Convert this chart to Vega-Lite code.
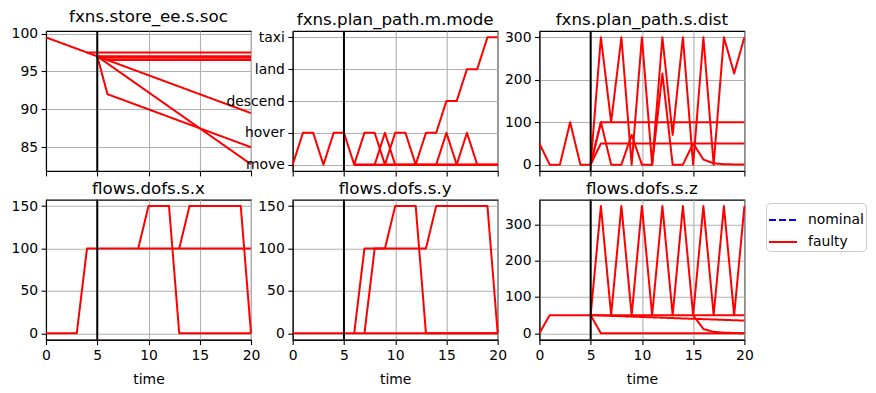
{
"$schema": "https://vega.github.io/schema/vega-lite/v6.json",
"padding": {"left": 10, "top": 8, "right": 5, "bottom": 5},
"background": "white",
"datasets": {
"soc": [
{"s":"a","t":0,"v":99.5},{"s":"a","t":1,"v":99},{"s":"a","t":2,"v":98.5},{"s":"a","t":3,"v":98},{"s":"a","t":4,"v":97.5},{"s":"a","t":5,"v":97},{"s":"a","t":6,"v":96.5},{"s":"a","t":7,"v":96},{"s":"a","t":8,"v":95.5},{"s":"a","t":9,"v":95},{"s":"a","t":10,"v":94.5},{"s":"a","t":11,"v":94},{"s":"a","t":12,"v":93.5},{"s":"a","t":13,"v":93},{"s":"a","t":14,"v":92.5},{"s":"a","t":15,"v":92},{"s":"a","t":16,"v":91.5},{"s":"a","t":17,"v":91},{"s":"a","t":18,"v":90.5},{"s":"a","t":19,"v":90},{"s":"a","t":20,"v":89.5},
{"s":"b","t":4,"v":97.5},{"s":"b","t":5,"v":97.5},{"s":"b","t":6,"v":97.5},{"s":"b","t":7,"v":97.5},{"s":"b","t":8,"v":97.5},{"s":"b","t":9,"v":97.5},{"s":"b","t":10,"v":97.5},{"s":"b","t":11,"v":97.5},{"s":"b","t":12,"v":97.5},{"s":"b","t":13,"v":97.5},{"s":"b","t":14,"v":97.5},{"s":"b","t":15,"v":97.5},{"s":"b","t":16,"v":97.5},{"s":"b","t":17,"v":97.5},{"s":"b","t":18,"v":97.5},{"s":"b","t":19,"v":97.5},{"s":"b","t":20,"v":97.5},
{"s":"c","t":5,"v":97},{"s":"c","t":6,"v":97},{"s":"c","t":7,"v":97},{"s":"c","t":8,"v":97},{"s":"c","t":9,"v":97},{"s":"c","t":10,"v":97},{"s":"c","t":11,"v":97},{"s":"c","t":12,"v":97},{"s":"c","t":13,"v":97},{"s":"c","t":14,"v":97},{"s":"c","t":15,"v":97},{"s":"c","t":16,"v":97},{"s":"c","t":17,"v":97},{"s":"c","t":18,"v":97},{"s":"c","t":19,"v":97},{"s":"c","t":20,"v":97},
{"s":"d","t":5,"v":97},{"s":"d","t":6,"v":96.8},{"s":"d","t":7,"v":96.8},{"s":"d","t":8,"v":96.8},{"s":"d","t":9,"v":96.8},{"s":"d","t":10,"v":96.8},{"s":"d","t":11,"v":96.8},{"s":"d","t":12,"v":96.8},{"s":"d","t":13,"v":96.8},{"s":"d","t":14,"v":96.8},{"s":"d","t":15,"v":96.8},{"s":"d","t":16,"v":96.8},{"s":"d","t":17,"v":96.8},{"s":"d","t":18,"v":96.8},{"s":"d","t":19,"v":96.8},{"s":"d","t":20,"v":96.8},
{"s":"e","t":5,"v":97},{"s":"e","t":6,"v":96.5},{"s":"e","t":7,"v":96.5},{"s":"e","t":8,"v":96.5},{"s":"e","t":9,"v":96.5},{"s":"e","t":10,"v":96.5},{"s":"e","t":11,"v":96.5},{"s":"e","t":12,"v":96.5},{"s":"e","t":13,"v":96.5},{"s":"e","t":14,"v":96.5},{"s":"e","t":15,"v":96.5},{"s":"e","t":16,"v":96.5},{"s":"e","t":17,"v":96.5},{"s":"e","t":18,"v":96.5},{"s":"e","t":19,"v":96.5},{"s":"e","t":20,"v":96.5},
{"s":"f","t":5,"v":97},{"s":"f","t":6,"v":92},{"s":"f","t":7,"v":91.5},{"s":"f","t":8,"v":91},{"s":"f","t":9,"v":90.5},{"s":"f","t":10,"v":90},{"s":"f","t":11,"v":89.5},{"s":"f","t":12,"v":89},{"s":"f","t":13,"v":88.5},{"s":"f","t":14,"v":88},{"s":"f","t":15,"v":87.5},{"s":"f","t":16,"v":87},{"s":"f","t":17,"v":86.5},{"s":"f","t":18,"v":86},{"s":"f","t":19,"v":85.5},{"s":"f","t":20,"v":85},
{"s":"g","t":5,"v":97},{"s":"g","t":6,"v":96.05},{"s":"g","t":7,"v":95.1},{"s":"g","t":8,"v":94.15},{"s":"g","t":9,"v":93.2},{"s":"g","t":10,"v":92.25},{"s":"g","t":11,"v":91.3},{"s":"g","t":12,"v":90.35},{"s":"g","t":13,"v":89.4},{"s":"g","t":14,"v":88.45},{"s":"g","t":15,"v":87.5},{"s":"g","t":16,"v":86.55},{"s":"g","t":17,"v":85.6},{"s":"g","t":18,"v":84.65},{"s":"g","t":19,"v":83.7},{"s":"g","t":20,"v":82.75}
],
"mode": [
{"s":"a","t":0,"v":0},{"s":"a","t":1,"v":1},{"s":"a","t":2,"v":1},{"s":"a","t":3,"v":0},{"s":"a","t":4,"v":1},{"s":"a","t":5,"v":1},{"s":"a","t":6,"v":0},{"s":"a","t":7,"v":1},{"s":"a","t":8,"v":1},{"s":"a","t":9,"v":0},{"s":"a","t":10,"v":1},{"s":"a","t":11,"v":1},{"s":"a","t":12,"v":0},{"s":"a","t":13,"v":1},{"s":"a","t":14,"v":1},{"s":"a","t":15,"v":2},{"s":"a","t":16,"v":2},{"s":"a","t":17,"v":3},{"s":"a","t":18,"v":3},{"s":"a","t":19,"v":4},{"s":"a","t":20,"v":4},
{"s":"b","t":9,"v":0},{"s":"b","t":10,"v":0},{"s":"b","t":11,"v":0},{"s":"b","t":12,"v":0},{"s":"b","t":13,"v":0},{"s":"b","t":14,"v":0},{"s":"b","t":15,"v":0},{"s":"b","t":16,"v":0},{"s":"b","t":17,"v":0},{"s":"b","t":18,"v":0},{"s":"b","t":19,"v":0},{"s":"b","t":20,"v":0},
{"s":"c","t":6,"v":0},{"s":"c","t":7,"v":0},{"s":"c","t":8,"v":0},{"s":"c","t":9,"v":1},{"s":"c","t":10,"v":0},{"s":"c","t":11,"v":0},{"s":"c","t":12,"v":0},{"s":"c","t":13,"v":0},{"s":"c","t":14,"v":0},{"s":"c","t":15,"v":0},{"s":"c","t":16,"v":0},{"s":"c","t":17,"v":0},{"s":"c","t":18,"v":0},{"s":"c","t":19,"v":0},{"s":"c","t":20,"v":0},
{"s":"d","t":6,"v":0},{"s":"d","t":7,"v":0},{"s":"d","t":8,"v":0},{"s":"d","t":9,"v":0},{"s":"d","t":10,"v":0},{"s":"d","t":11,"v":0},{"s":"d","t":12,"v":0},{"s":"d","t":13,"v":0},{"s":"d","t":14,"v":0},{"s":"d","t":15,"v":1},{"s":"d","t":16,"v":0},{"s":"d","t":17,"v":0},{"s":"d","t":18,"v":0},{"s":"d","t":19,"v":0},{"s":"d","t":20,"v":0},
{"s":"e","t":6,"v":0},{"s":"e","t":7,"v":0},{"s":"e","t":8,"v":0},{"s":"e","t":9,"v":0},{"s":"e","t":10,"v":0},{"s":"e","t":11,"v":0},{"s":"e","t":12,"v":0},{"s":"e","t":13,"v":0},{"s":"e","t":14,"v":0},{"s":"e","t":15,"v":0},{"s":"e","t":16,"v":0},{"s":"e","t":17,"v":1},{"s":"e","t":18,"v":0},{"s":"e","t":19,"v":0},{"s":"e","t":20,"v":0}
],
"dist": [
{"s":"a","t":0,"v":50},{"s":"a","t":1,"v":0},{"s":"a","t":2,"v":0},{"s":"a","t":3,"v":100},{"s":"a","t":4,"v":0},{"s":"a","t":5,"v":0},{"s":"a","t":6,"v":300},{"s":"a","t":7,"v":100},{"s":"a","t":8,"v":300},{"s":"a","t":9,"v":0},{"s":"a","t":10,"v":300},{"s":"a","t":11,"v":0},{"s":"a","t":12,"v":300},{"s":"a","t":13,"v":70},{"s":"a","t":14,"v":300},{"s":"a","t":15,"v":0},{"s":"a","t":16,"v":300},{"s":"a","t":17,"v":0},{"s":"a","t":18,"v":300},{"s":"a","t":19,"v":215},{"s":"a","t":20,"v":300},
{"s":"b","t":5,"v":0},{"s":"b","t":6,"v":100},{"s":"b","t":7,"v":0},{"s":"b","t":8,"v":0},{"s":"b","t":9,"v":70},{"s":"b","t":10,"v":0},{"s":"b","t":11,"v":0},{"s":"b","t":12,"v":215},{"s":"b","t":13,"v":0},{"s":"b","t":14,"v":0},{"s":"b","t":15,"v":50},{"s":"b","t":16,"v":12},{"s":"b","t":17,"v":3},{"s":"b","t":18,"v":1},{"s":"b","t":19,"v":0.5},{"s":"b","t":20,"v":0},
{"s":"c","t":5,"v":0},{"s":"c","t":6,"v":100},{"s":"c","t":7,"v":100},{"s":"c","t":8,"v":100},{"s":"c","t":9,"v":100},{"s":"c","t":10,"v":100},{"s":"c","t":11,"v":100},{"s":"c","t":12,"v":100},{"s":"c","t":13,"v":100},{"s":"c","t":14,"v":100},{"s":"c","t":15,"v":100},{"s":"c","t":16,"v":100},{"s":"c","t":17,"v":100},{"s":"c","t":18,"v":100},{"s":"c","t":19,"v":100},{"s":"c","t":20,"v":100},
{"s":"d","t":5,"v":0},{"s":"d","t":6,"v":50},{"s":"d","t":7,"v":50},{"s":"d","t":8,"v":50},{"s":"d","t":9,"v":50},{"s":"d","t":10,"v":50},{"s":"d","t":11,"v":50},{"s":"d","t":12,"v":50},{"s":"d","t":13,"v":50},{"s":"d","t":14,"v":50},{"s":"d","t":15,"v":50},{"s":"d","t":16,"v":50},{"s":"d","t":17,"v":50},{"s":"d","t":18,"v":50},{"s":"d","t":19,"v":50},{"s":"d","t":20,"v":50}
],
"dx": [
{"s":"a","t":0,"v":0},{"s":"a","t":1,"v":0},{"s":"a","t":2,"v":0},{"s":"a","t":3,"v":0},{"s":"a","t":4,"v":100},{"s":"a","t":5,"v":100},{"s":"a","t":6,"v":100},{"s":"a","t":7,"v":100},{"s":"a","t":8,"v":100},{"s":"a","t":9,"v":100},{"s":"a","t":10,"v":100},{"s":"a","t":11,"v":100},{"s":"a","t":12,"v":100},{"s":"a","t":13,"v":100},{"s":"a","t":14,"v":100},{"s":"a","t":15,"v":100},{"s":"a","t":16,"v":100},{"s":"a","t":17,"v":100},{"s":"a","t":18,"v":100},{"s":"a","t":19,"v":100},{"s":"a","t":20,"v":100},
{"s":"b","t":9,"v":100},{"s":"b","t":10,"v":150},{"s":"b","t":11,"v":150},{"s":"b","t":12,"v":150},{"s":"b","t":13,"v":0},{"s":"b","t":14,"v":0},{"s":"b","t":15,"v":0},{"s":"b","t":16,"v":0},{"s":"b","t":17,"v":0},{"s":"b","t":18,"v":0},{"s":"b","t":19,"v":0},{"s":"b","t":20,"v":0},
{"s":"c","t":13,"v":100},{"s":"c","t":14,"v":150},{"s":"c","t":15,"v":150},{"s":"c","t":16,"v":150},{"s":"c","t":17,"v":150},{"s":"c","t":18,"v":150},{"s":"c","t":19,"v":150},{"s":"c","t":20,"v":0}
],
"dy": [
{"s":"a","t":0,"v":0},{"s":"a","t":1,"v":0},{"s":"a","t":2,"v":0},{"s":"a","t":3,"v":0},{"s":"a","t":4,"v":0},{"s":"a","t":5,"v":0},{"s":"a","t":6,"v":0},{"s":"a","t":7,"v":0},{"s":"a","t":8,"v":0},{"s":"a","t":9,"v":0},{"s":"a","t":10,"v":0},{"s":"a","t":11,"v":0},{"s":"a","t":12,"v":0},{"s":"a","t":13,"v":0},{"s":"a","t":14,"v":0},{"s":"a","t":15,"v":0},{"s":"a","t":16,"v":0},{"s":"a","t":17,"v":0},{"s":"a","t":18,"v":0},{"s":"a","t":19,"v":0},{"s":"a","t":20,"v":0},
{"s":"b","t":6,"v":0},{"s":"b","t":7,"v":100},{"s":"b","t":8,"v":100},{"s":"b","t":9,"v":100},{"s":"b","t":10,"v":150},{"s":"b","t":11,"v":150},{"s":"b","t":12,"v":150},{"s":"b","t":13,"v":0},{"s":"b","t":14,"v":0},{"s":"b","t":15,"v":0},{"s":"b","t":16,"v":0},{"s":"b","t":17,"v":0},{"s":"b","t":18,"v":0},{"s":"b","t":19,"v":0},{"s":"b","t":20,"v":0},
{"s":"c","t":7,"v":0},{"s":"c","t":8,"v":100},{"s":"c","t":9,"v":100},{"s":"c","t":10,"v":100},{"s":"c","t":11,"v":100},{"s":"c","t":12,"v":100},{"s":"c","t":13,"v":100},{"s":"c","t":14,"v":150},{"s":"c","t":15,"v":150},{"s":"c","t":16,"v":150},{"s":"c","t":17,"v":150},{"s":"c","t":18,"v":150},{"s":"c","t":19,"v":150},{"s":"c","t":20,"v":0}
],
"dz": [
{"s":"a","t":0,"v":0},{"s":"a","t":1,"v":50},{"s":"a","t":2,"v":50},{"s":"a","t":3,"v":50},{"s":"a","t":4,"v":50},{"s":"a","t":5,"v":50},{"s":"a","t":6,"v":350},{"s":"a","t":7,"v":50},{"s":"a","t":8,"v":350},{"s":"a","t":9,"v":50},{"s":"a","t":10,"v":350},{"s":"a","t":11,"v":50},{"s":"a","t":12,"v":350},{"s":"a","t":13,"v":50},{"s":"a","t":14,"v":350},{"s":"a","t":15,"v":50},{"s":"a","t":16,"v":350},{"s":"a","t":17,"v":50},{"s":"a","t":18,"v":350},{"s":"a","t":19,"v":50},{"s":"a","t":20,"v":350},
{"s":"b","t":5,"v":50},{"s":"b","t":6,"v":0},{"s":"b","t":7,"v":0},{"s":"b","t":8,"v":0},{"s":"b","t":9,"v":0},{"s":"b","t":10,"v":0},{"s":"b","t":11,"v":0},{"s":"b","t":12,"v":0},{"s":"b","t":13,"v":0},{"s":"b","t":14,"v":0},{"s":"b","t":15,"v":0},{"s":"b","t":16,"v":0},{"s":"b","t":17,"v":0},{"s":"b","t":18,"v":0},{"s":"b","t":19,"v":0},{"s":"b","t":20,"v":0},
{"s":"c","t":5,"v":50},{"s":"c","t":6,"v":50},{"s":"c","t":7,"v":50},{"s":"c","t":8,"v":50},{"s":"c","t":9,"v":50},{"s":"c","t":10,"v":50},{"s":"c","t":11,"v":50},{"s":"c","t":12,"v":50},{"s":"c","t":13,"v":50},{"s":"c","t":14,"v":50},{"s":"c","t":15,"v":50},{"s":"c","t":16,"v":50},{"s":"c","t":17,"v":50},{"s":"c","t":18,"v":50},{"s":"c","t":19,"v":50},{"s":"c","t":20,"v":50},
{"s":"d","t":5,"v":50},{"s":"d","t":6,"v":49},{"s":"d","t":7,"v":48},{"s":"d","t":8,"v":47},{"s":"d","t":9,"v":46},{"s":"d","t":10,"v":45},{"s":"d","t":11,"v":44},{"s":"d","t":12,"v":43},{"s":"d","t":13,"v":42},{"s":"d","t":14,"v":41},{"s":"d","t":15,"v":40},{"s":"d","t":16,"v":39},{"s":"d","t":17,"v":38},{"s":"d","t":18,"v":37},{"s":"d","t":19,"v":36},{"s":"d","t":20,"v":35},
{"s":"e","t":15,"v":50},{"s":"e","t":16,"v":12},{"s":"e","t":17,"v":4},{"s":"e","t":18,"v":2},{"s":"e","t":19,"v":1},{"s":"e","t":20,"v":0}
],
"fault": [{"t":5}]
},
"columns": 3,
"spacing": {"row": 28.7, "column": 41.7},
"bounds": "flush",
"concat": [
{"width":205,"height":140,"title":"fxns.store_ee.s.soc","layer":[
 {"data":{"name":"soc"},"mark":{"type":"line","strokeWidth":2,"strokeJoin":"round"},"encoding":{
  "x":{"field":"t","type":"quantitative","scale":{"domain":[0,20],"nice":false},"axis":{"values":[0,5,10,15,20],"labels":false,"title":null}},
  "y":{"field":"v","type":"quantitative","scale":{"domain":[81.86,100.34],"nice":false,"zero":false},"axis":{"values":[85,90,95,100],"title":null}},
  "detail":{"field":"s"},
  "color":{"datum":"faulty","type":"nominal","scale":{"domain":["nominal","faulty"],"range":["#0000ff","#ff0000"]}},
  "strokeDash":{"datum":"faulty","type":"nominal","scale":{"domain":["nominal","faulty"],"range":[[7,3],[1,0]]}}}},
 {"data":{"name":"fault"},"mark":{"type":"rule","color":"black","strokeWidth":2},"encoding":{"x":{"field":"t","type":"quantitative"}}}
]},
{"width":205,"height":140,"title":"fxns.plan_path.m.mode","layer":[
 {"data":{"name":"mode"},"mark":{"type":"line","strokeWidth":2,"strokeJoin":"round"},"encoding":{
  "x":{"field":"t","type":"quantitative","scale":{"domain":[0,20],"nice":false},"axis":{"values":[0,5,10,15,20],"labels":false,"title":null}},
  "y":{"field":"v","type":"quantitative","scale":{"domain":[-0.2,4.2],"nice":false,"zero":false},"axis":{"values":[0,1,2,3,4],"title":null,"labelExpr":"['move','hover','descend','land','taxi'][datum.value]"}},
  "detail":{"field":"s"},
  "color":{"datum":"faulty","type":"nominal","scale":{"domain":["nominal","faulty"],"range":["#0000ff","#ff0000"]}},
  "strokeDash":{"datum":"faulty","type":"nominal","scale":{"domain":["nominal","faulty"],"range":[[7,3],[1,0]]}}}},
 {"data":{"name":"fault"},"mark":{"type":"rule","color":"black","strokeWidth":2},"encoding":{"x":{"field":"t","type":"quantitative"}}}
]},
{"width":205,"height":140,"title":"fxns.plan_path.s.dist","layer":[
 {"data":{"name":"dist"},"mark":{"type":"line","strokeWidth":2,"strokeJoin":"round"},"encoding":{
  "x":{"field":"t","type":"quantitative","scale":{"domain":[0,20],"nice":false},"axis":{"values":[0,5,10,15,20],"labels":false,"title":null}},
  "y":{"field":"v","type":"quantitative","scale":{"domain":[-15,315],"nice":false,"zero":false},"axis":{"values":[0,100,200,300],"title":null}},
  "detail":{"field":"s"},
  "color":{"datum":"faulty","type":"nominal","scale":{"domain":["nominal","faulty"],"range":["#0000ff","#ff0000"]}},
  "strokeDash":{"datum":"faulty","type":"nominal","scale":{"domain":["nominal","faulty"],"range":[[7,3],[1,0]]}}}},
 {"data":{"name":"fault"},"mark":{"type":"rule","color":"black","strokeWidth":2},"encoding":{"x":{"field":"t","type":"quantitative"}}}
]},
{"width":205,"height":140,"title":"flows.dofs.s.x","layer":[
 {"data":{"name":"dx"},"mark":{"type":"line","strokeWidth":2,"strokeJoin":"round"},"encoding":{
  "x":{"field":"t","type":"quantitative","scale":{"domain":[0,20],"nice":false},"axis":{"values":[0,5,10,15,20],"title":"time"}},
  "y":{"field":"v","type":"quantitative","scale":{"domain":[-7.5,157.5],"nice":false,"zero":false},"axis":{"values":[0,50,100,150],"title":null}},
  "detail":{"field":"s"},
  "color":{"datum":"faulty","type":"nominal","scale":{"domain":["nominal","faulty"],"range":["#0000ff","#ff0000"]}},
  "strokeDash":{"datum":"faulty","type":"nominal","scale":{"domain":["nominal","faulty"],"range":[[7,3],[1,0]]}}}},
 {"data":{"name":"fault"},"mark":{"type":"rule","color":"black","strokeWidth":2},"encoding":{"x":{"field":"t","type":"quantitative"}}}
]},
{"width":205,"height":140,"title":"flows.dofs.s.y","layer":[
 {"data":{"name":"dy"},"mark":{"type":"line","strokeWidth":2,"strokeJoin":"round"},"encoding":{
  "x":{"field":"t","type":"quantitative","scale":{"domain":[0,20],"nice":false},"axis":{"values":[0,5,10,15,20],"title":"time"}},
  "y":{"field":"v","type":"quantitative","scale":{"domain":[-7.5,157.5],"nice":false,"zero":false},"axis":{"values":[0,50,100,150],"title":null}},
  "detail":{"field":"s"},
  "color":{"datum":"faulty","type":"nominal","scale":{"domain":["nominal","faulty"],"range":["#0000ff","#ff0000"]}},
  "strokeDash":{"datum":"faulty","type":"nominal","scale":{"domain":["nominal","faulty"],"range":[[7,3],[1,0]]}}}},
 {"data":{"name":"fault"},"mark":{"type":"rule","color":"black","strokeWidth":2},"encoding":{"x":{"field":"t","type":"quantitative"}}}
]},
{"width":205,"height":140,"title":"flows.dofs.s.z","layer":[
 {"data":{"name":"dz"},"mark":{"type":"line","strokeWidth":2,"strokeJoin":"round"},"encoding":{
  "x":{"field":"t","type":"quantitative","scale":{"domain":[0,20],"nice":false},"axis":{"values":[0,5,10,15,20],"title":"time"}},
  "y":{"field":"v","type":"quantitative","scale":{"domain":[-17.5,367.5],"nice":false,"zero":false},"axis":{"values":[0,100,200,300],"title":null}},
  "detail":{"field":"s"},
  "color":{"datum":"faulty","type":"nominal","scale":{"domain":["nominal","faulty"],"range":["#0000ff","#ff0000"]}},
  "strokeDash":{"datum":"faulty","type":"nominal","scale":{"domain":["nominal","faulty"],"range":[[7,3],[1,0]]}}}},
 {"data":{"name":"fault"},"mark":{"type":"rule","color":"black","strokeWidth":2},"encoding":{"x":{"field":"t","type":"quantitative"}}}
]}
],
"resolve": {"scale": {"x": "independent", "y": "independent"}},
"config": {
 "font": "DejaVu Sans",
 "view": {"stroke": "black", "strokeWidth": 1.1},
 "axis": {"domainColor": "black", "domainWidth": 1.1, "tickColor": "black", "tickWidth": 1.1, "tickSize": 4.9, "labelFontSize": 13.9, "labelColor": "black", "labelPadding": 3.5, "gridColor": "#b0b0b0", "gridWidth": 1.1, "titleFontSize": 13.9, "titleFontWeight": "normal", "titleColor": "black", "titlePadding": 10, "labelFlush": false},
 "title": {"fontSize": 16.7, "fontWeight": "normal", "color": "black", "offset": 1},
 "legend": {"orient": "none", "legendX": 720, "legendY": 172, "symbolType": "stroke", "symbolSize": 784, "symbolStrokeWidth": 2, "labelFontSize": 13.9, "labelColor": "black", "strokeColor": "#cccccc", "fillColor": "white", "cornerRadius": 4, "padding": 2, "rowPadding": -7, "labelOffset": 10, "title": null}
}
}
